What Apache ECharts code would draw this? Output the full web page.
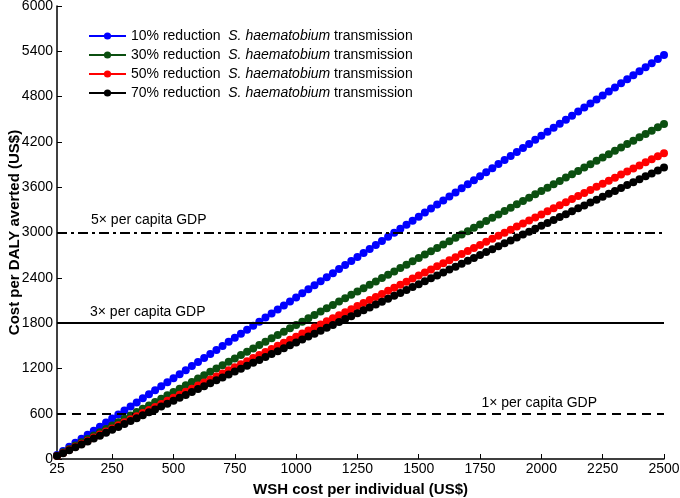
<!DOCTYPE html>
<html>
<head>
<meta charset="utf-8">
<script src="https://cdn.jsdelivr.net/npm/echarts@6/dist/echarts.min.js"></script>
<style>
html,body{margin:0;padding:0;background:#fff;}
#c{width:680px;height:498px;}
</style>
</head>
<body>
<div id="c"></div>
<script>
const xValues = [25,50,75,100,125,150,175,200,225,250,275,300,325,350,375,400,425,450,475,500,
525,550,575,600,625,650,675,700,725,750,775,800,825,850,875,900,925,950,975,1000,
1025,1050,1075,1100,1125,1150,1175,1200,1225,1250,1275,1300,1325,1350,1375,1400,1425,1450,1475,1500,
1525,1550,1575,1600,1625,1650,1675,1700,1725,1750,1775,1800,1825,1850,1875,1900,1925,1950,1975,2000,
2025,2050,2075,2100,2125,2150,2175,2200,2225,2250,2275,2300,2325,2350,2375,2400,2425,2450,2475,2500];

const red10 = [54,107,161,214,268,321,375,428,482,535,589,642,696,749,803,856,910,963,1017,1070,
1124,1177,1231,1284,1338,1391,1445,1498,1552,1605,1659,1712,1766,1819,1873,1926,1980,2033,2087,2140,
2194,2247,2301,2354,2408,2461,2515,2568,2622,2675,2729,2782,2836,2889,2943,2996,3050,3103,3157,3210,
3264,3317,3371,3424,3478,3531,3585,3638,3692,3745,3799,3852,3906,3959,4013,4066,4120,4173,4227,4280,
4334,4387,4441,4494,4548,4601,4655,4708,4762,4815,4869,4922,4976,5029,5083,5136,5190,5243,5297,5350];

const red30 = [44,89,133,178,222,266,311,355,399,444,488,533,577,621,666,710,754,799,843,888,
932,976,1021,1065,1109,1154,1198,1243,1287,1331,1376,1420,1464,1509,1553,1598,1642,1686,1731,1775,
1819,1864,1908,1953,1997,2041,2086,2130,2174,2219,2263,2308,2352,2396,2441,2485,2529,2574,2618,2663,
2707,2751,2796,2840,2884,2929,2973,3018,3062,3106,3151,3195,3239,3284,3328,3373,3417,3461,3506,3550,
3594,3639,3683,3728,3772,3816,3861,3905,3949,3994,4038,4083,4127,4171,4216,4260,4304,4349,4393,4438];

const red50 = [41,81,122,162,203,243,284,324,365,405,446,486,527,567,608,648,689,729,770,810,
851,891,932,972,1013,1053,1094,1134,1175,1215,1256,1296,1337,1377,1418,1458,1499,1539,1580,1620,
1661,1701,1742,1782,1823,1863,1904,1944,1985,2025,2066,2106,2147,2187,2228,2268,2309,2349,2390,2430,
2471,2511,2552,2592,2633,2673,2714,2754,2795,2835,2876,2916,2957,2997,3038,3078,3119,3159,3200,3240,
3281,3321,3362,3402,3443,3483,3524,3564,3605,3645,3686,3726,3767,3807,3848,3888,3929,3969,4010,4050];

const red70 = [39,77,116,154,193,232,270,309,347,386,425,463,502,540,579,618,656,695,733,772,
811,849,888,926,965,1004,1042,1081,1119,1158,1197,1235,1274,1312,1351,1390,1428,1467,1505,1544,
1583,1621,1660,1698,1737,1776,1814,1853,1891,1930,1969,2007,2046,2084,2123,2162,2200,2239,2277,2316,
2355,2393,2432,2470,2509,2548,2586,2625,2663,2702,2741,2779,2818,2856,2895,2934,2972,3011,3049,3088,
3127,3165,3204,3242,3281,3320,3358,3397,3435,3474,3513,3551,3590,3628,3667,3706,3744,3783,3821,3860];

const seriesNames = [
  '10% reduction  S. haematobium transmission',
  '30% reduction  S. haematobium transmission',
  '50% reduction  S. haematobium transmission',
  '70% reduction  S. haematobium transmission'
];
const seriesValues = [red10, red30, red50, red70];
const seriesColors = ['#0000ff', '#0b4f10', '#ff0000', '#000000'];

const xTicks = [25,250,500,750,1000,1250,1500,1750,2000,2250,2500];
const gdpLevels = [600, 1800, 3000];
const gdpLabels = ['1× per capita GDP', '3× per capita GDP', '5× per capita GDP'];

const FONT = 'Liberation Sans, Arial, sans-serif';

const chart = echarts.init(document.getElementById('c'), null, {renderer: 'canvas'});

const series = seriesNames.map((name, i) => ({
  name: name,
  type: 'line',
  data: xValues.map((x, j) => [x, seriesValues[i][j]]),
  symbol: 'circle',
  symbolSize: 8,
  showAllSymbol: true,
  color: seriesColors[i],
  lineStyle: {color: seriesColors[i], width: 1.2},
  itemStyle: {color: seriesColors[i]},
  animation: false,
  z: 3 + i
}));

series.push({
  name: 'gdp',
  type: 'line',
  data: [],
  animation: false,
  markLine: {
    silent: true,
    symbol: 'none',
    animation: false,
    data: [
      {yAxis: gdpLevels[0], lineStyle: {type: [9, 6], color: '#000', width: 2},
       label: {formatter: gdpLabels[0], position: 'insideEndTop', distance: 4, padding: [0, 63, 0, 0]}},
      {yAxis: gdpLevels[1], lineStyle: {type: 'solid', color: '#000', width: 2},
       label: {formatter: gdpLabels[1], position: 'insideStartTop', distance: 4, padding: [0, 0, 0, 29]}},
      {yAxis: gdpLevels[2], lineStyle: {type: [10, 4, 3, 4], color: '#000', width: 2},
       label: {formatter: gdpLabels[2], position: 'insideStartTop', distance: 5, padding: [0, 0, 0, 29]}}
    ],
    label: {color: '#000', fontSize: 14, fontFamily: FONT}
  }
});

chart.setOption({
  backgroundColor: '#fff',
  animation: false,
  grid: {left: 57, right: 16, top: 6, bottom: 39, containLabel: false, outerBoundsMode: 'none'},
  legend: {
    data: seriesNames,
    orient: 'vertical',
    left: 88,
    top: 28,
    padding: 0,
    itemWidth: 37,
    itemHeight: 9,
    itemGap: 3,
    textStyle: {fontSize: 14, fontFamily: FONT, color: '#000', lineHeight: 16,
      rich: {i: {fontStyle: 'italic', fontSize: 14, fontFamily: FONT, color: '#000', lineHeight: 16}}},
    formatter: n => n.replace('S. haematobium', '{i|S. haematobium}')
  },
  xAxis: {
    type: 'value',
    min: 25,
    max: 2500,
    name: 'WSH cost per individual (US$)',
    nameLocation: 'middle',
    nameGap: 23,
    nameMoveOverlap: false,
    nameTextStyle: {fontSize: 15, fontWeight: 'bold', fontFamily: FONT, color: '#000'},
    axisLine: {show: true, lineStyle: {color: '#000', width: 1.5}},
    axisTick: {show: true, inside: true, length: 5, customValues: xTicks, lineStyle: {color: '#000', width: 1}},
    axisLabel: {customValues: xTicks, fontSize: 14, fontFamily: FONT, color: '#000', margin: 3,
      formatter: v => String(v)},
    splitLine: {show: false}
  },
  yAxis: {
    type: 'value',
    min: 0,
    max: 6000,
    interval: 600,
    name: 'Cost per DALY averted (US$)',
    nameLocation: 'middle',
    nameGap: 35,
    nameMoveOverlap: false,
    nameTextStyle: {fontSize: 15, fontWeight: 'bold', fontFamily: FONT, color: '#000'},
    axisLine: {show: true, lineStyle: {color: '#000', width: 1.5}},
    axisTick: {show: true, inside: true, length: 5, lineStyle: {color: '#000', width: 1}},
    axisLabel: {fontSize: 14, fontFamily: FONT, color: '#000', margin: 4,
      formatter: v => String(v)},
    splitLine: {show: false}
  },
  series: series
});
</script>
</body>
</html>
